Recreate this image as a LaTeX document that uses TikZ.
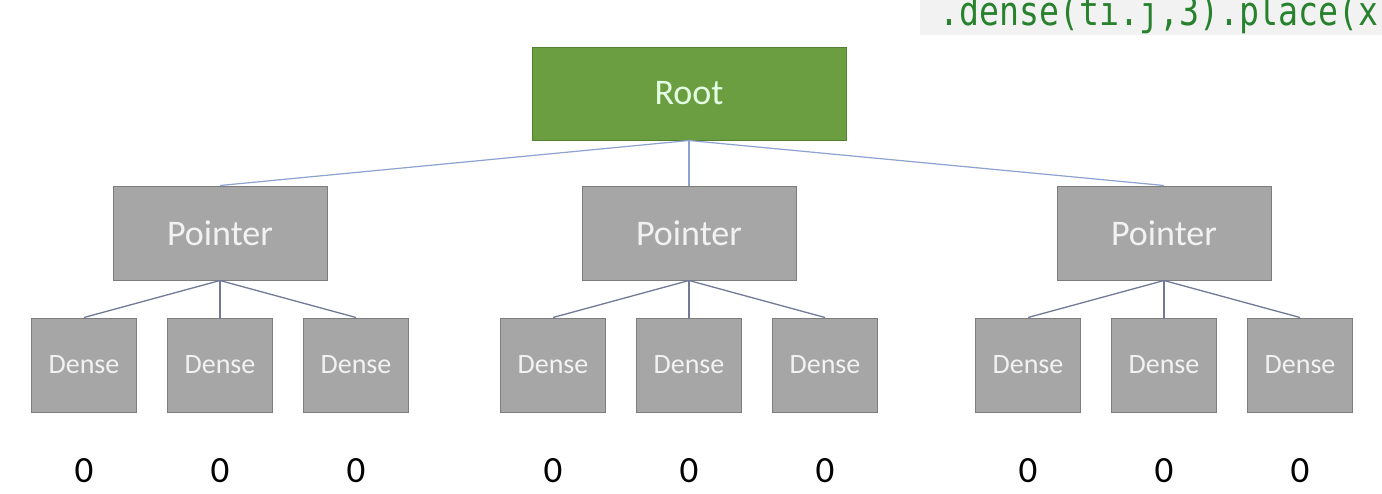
\documentclass[tikz,border=0pt]{standalone}
\usepackage{fontspec}
\setmainfont{Carlito}
\newfontfamily\codefont{DejaVu Sans Mono}
\definecolor{rootgreen}{RGB}{106,158,64}
\definecolor{rootedge}{RGB}{84,128,50}
\definecolor{boxgray}{RGB}{166,166,166}
\definecolor{boxedge}{RGB}{125,125,125}
\definecolor{codegray}{RGB}{242,242,242}
\definecolor{codegreen}{RGB}{40,130,45}
\definecolor{rootline}{RGB}{140,162,208}
\definecolor{ptrline}{RGB}{112,122,150}
\begin{document}
\begin{tikzpicture}[x=1pt,y=-1pt,
    rootbox/.style={draw=rootedge,fill=rootgreen,line width=1pt,inner sep=0pt,
      minimum width=314pt,minimum height=93pt,text=white!90!green,
      font=\fontsize{36}{36}\selectfont},
    ptrbox/.style={draw=boxedge,fill=boxgray,line width=1pt,inner sep=0pt,
      minimum width=214pt,minimum height=94pt,text=white!95!black,
      font=\fontsize{36}{36}\selectfont},
    densebox/.style={draw=boxedge,fill=boxgray,line width=1pt,inner sep=0pt,
      minimum width=105pt,minimum height=94pt,text=white!95!black,
      font=\fontsize{28}{28}\selectfont},
    zero/.style={inner sep=0pt,anchor=base,font=\fontsize{37}{37}\selectfont},
    tolevel/.style={draw=rootline,line width=1.2pt},
    todense/.style={draw=ptrline,line width=1.3pt}]
  \useasboundingbox (0,0) rectangle (1382,493);
  % code snippet, cut at the edge
  \begin{scope}
    \clip (0,0) rectangle (1382,493);
    \fill[codegray] (920,-5) rectangle (1390,35);
    \node[anchor=base west,inner sep=0pt,text=codegreen,
      font=\codefont\fontsize{40}{40}\selectfont] (code) at (939,25)
      {\scalebox{0.83}[1]{.dense(ti.j,3).place(x}};
  \end{scope}
  \node[rootbox] (root) at (689,93.5) {Root};
  \foreach \i/\px in {1/220,2/689,3/1164} {
    \node[ptrbox] (p\i) at (\px,233) {Pointer};
    \draw[tolevel] (root.south) -- (p\i.north);
    \foreach \j/\dx in {1/-136,2/0,3/136} {
      \node[densebox] (d\i\j) at (\px+\dx,365) {Dense};
      \node[zero] (z\i\j) at (\px+\dx,482) {0};
      \draw[todense] (p\i.south) -- (d\i\j.north);
    }
  }
\end{tikzpicture}
\end{document}
